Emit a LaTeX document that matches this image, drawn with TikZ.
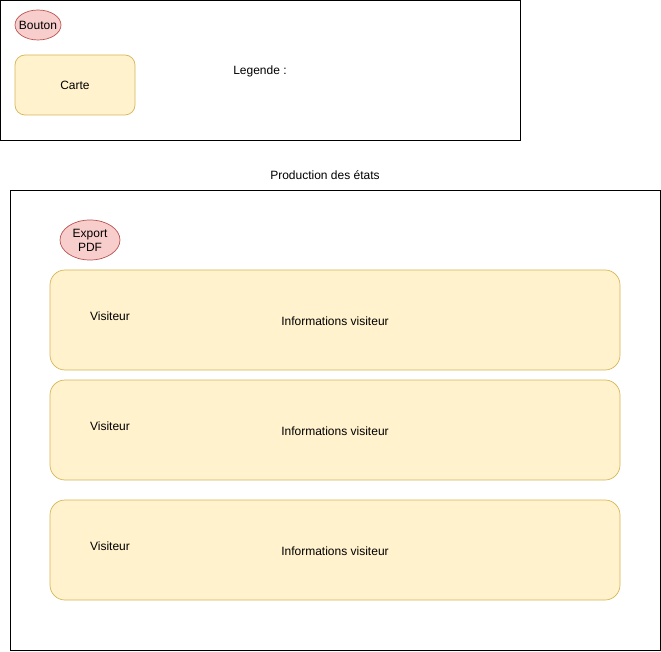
\documentclass[tikz,border=0pt]{standalone}
\usepackage{fontspec}
\setmainfont{Liberation Sans}
\usetikzlibrary{shapes.geometric}
\definecolor{cardfill}{HTML}{FFF2CC}
\definecolor{cardline}{HTML}{D6B656}
\definecolor{btnfill}{HTML}{F8CECC}
\definecolor{btnline}{HTML}{B85450}
\tikzset{
  frame/.style={draw=black, line width=0.8pt},
  card/.style={draw=cardline, fill=cardfill, line width=0.7pt, rounded corners=#1},
  card/.default=10pt,
  btn/.style={draw=btnline, fill=btnfill, line width=0.7pt, ellipse, inner sep=0pt},
  lbl/.style={font=\fontsize{12pt}{14pt}\selectfont, align=center},
}
\begin{document}
\begin{tikzpicture}[x=1pt,y=-1pt]
\useasboundingbox (0,0) rectangle (661,652);
% legend
\draw[frame] (0.5,0.5) rectangle (520,140);
\node[btn, minimum width=46pt, minimum height=30pt] (bouton) at (38,25) {};
\node[lbl] (boutontxt) at (bouton.center) {Bouton};
\draw[card=10pt] (15,55) rectangle (135,115);
\node[lbl] (carte) at (75,85) {Carte};
\node[lbl] (legende) at (260,71) {Legende :};
% main
\node[lbl] (title) at (325,175) {Production des états};
\draw[frame] (10,190) rectangle (660,650);
\node[btn, minimum width=60pt, minimum height=40pt] (export) at (90,240) {};
\node[lbl] (exporttxt) at (export.center) {Export\\PDF};
\foreach \y/\n in {270/a,380/b,500/c}{
  \draw[card=15pt] (50,\y) rectangle (620,\y+100);
  \node[lbl] (vis\n) at (110,\y+46) {Visiteur};
  \node[lbl] (info\n) at (335,\y+51) {Informations visiteur};
}
\end{tikzpicture}
\end{document}
